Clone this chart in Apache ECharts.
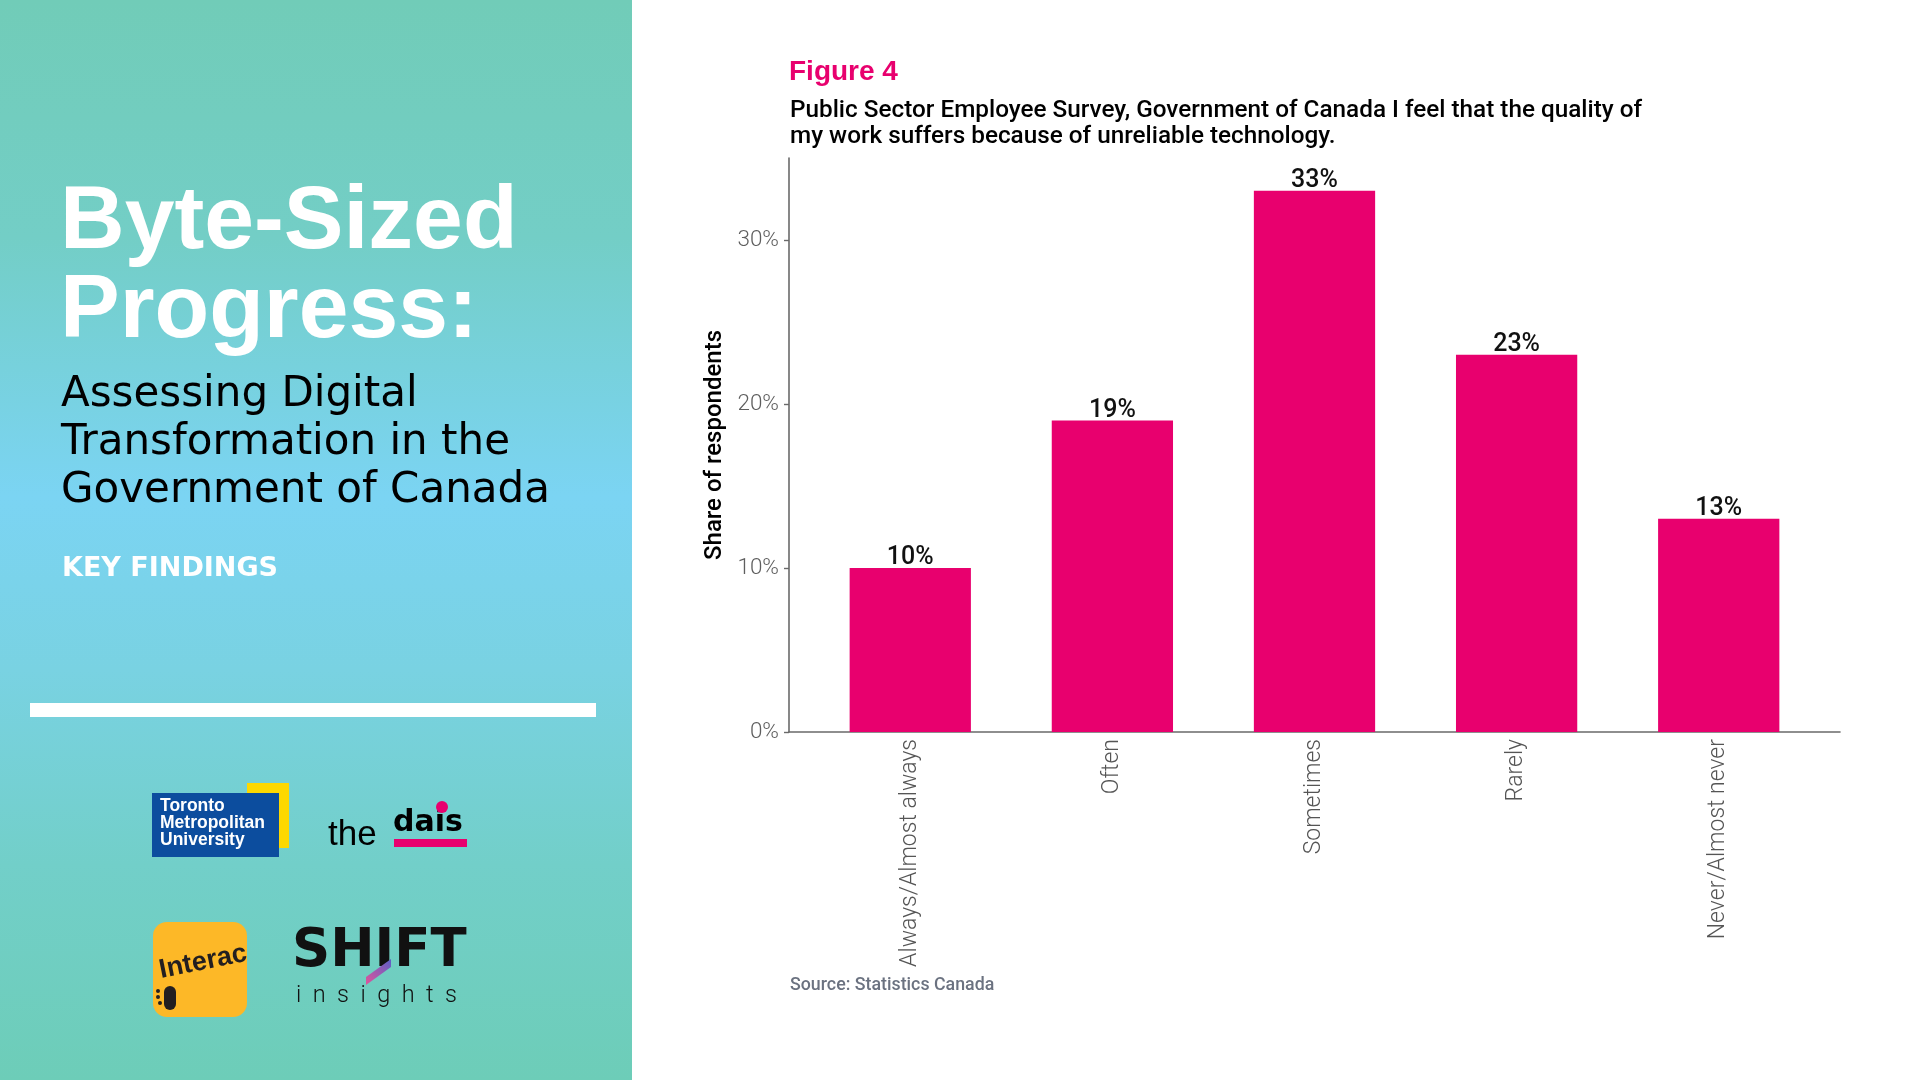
<!DOCTYPE html>
<html>
<head>
<meta charset="utf-8">
<script src="https://cdn.jsdelivr.net/npm/echarts@6/dist/echarts.min.js"></script>
<style>
html,body{margin:0;padding:0;background:#fff;}
#chart{width:1920px;height:1080px;}
</style>
</head>
<body>
<div id="chart"></div>
<script>
// ---- data ----
const categories = ['Always/Almost always', 'Often', 'Sometimes', 'Rarely', 'Never/Almost never'];
const shares = [10, 19, 33, 23, 13];
const yTickValues = [0, 10, 20, 30];
const figureLabel = 'Figure 4';
const subtitleText = 'Public Sector Employee Survey, Government of Canada I feel that the quality of\nmy work suffers because of unreliable technology.';
const yAxisTitle = 'Share of respondents';
const sourceText = 'Source: Statistics Canada';

const PINK = '#E8006E';
const categoryPositions = categories.map((_, i) => i);

const chart = echarts.init(document.getElementById('chart'), null, {renderer: 'canvas'});

const option = {
  backgroundColor: '#ffffff',
  animation: false,
  grid: {left: 789, right: 80, top: 158, bottom: 348, containLabel: false},
  xAxis: {
    type: 'value',
    min: -0.6,
    max: 4.6,
    axisLine: {show: true, onZero: false, lineStyle: {color: '#6a6a6a', width: 1.6}},
    axisTick: {show: false},
    splitLine: {show: false},
    axisLabel: {
      customValues: categoryPositions,
      formatter: v => categories[Math.round(v)],
      rotate: 90,
      margin: 7,
      color: '#555555',
      fontFamily: 'Roboto',
      fontWeight: 300,
      fontSize: 23
    }
  },
  yAxis: {
    type: 'value',
    min: 0,
    max: 35,
    interval: 10,
    axisLine: {show: true, onZero: false, lineStyle: {color: '#6a6a6a', width: 1.6}},
    axisTick: {show: true, length: 5, customValues: yTickValues, lineStyle: {color: '#6a6a6a', width: 1.4}},
    splitLine: {show: false},
    axisLabel: {
      customValues: yTickValues,
      formatter: '{value}%',
      margin: 10,
      padding: [4, 0, 0, 0],
      color: '#5e5e5e',
      fontFamily: 'Roboto',
      fontWeight: 300,
      fontSize: 22.5
    },
    name: yAxisTitle,
    nameLocation: 'middle',
    nameGap: 62,
    nameTextStyle: {color: '#000', fontFamily: 'Roboto', fontWeight: 500, fontSize: 24}
  },
  series: [{
    type: 'bar',
    data: shares.map((v, i) => [categoryPositions[i], v]),
    barWidth: '60%',
    itemStyle: {color: PINK},
    label: {
      show: true,
      position: 'top',
      distance: -2.5,
      formatter: p => p.value[1] + '%',
      color: '#111',
      fontFamily: 'Roboto',
      fontWeight: 500,
      fontSize: 25
    }
  }],
  graphic: [
    // left panel background
    {type: 'rect', silent: true, z: -10,
      shape: {x: 0, y: 0, width: 632, height: 1080},
      style: {fill: new echarts.graphic.LinearGradient(0, 0, 0, 1, [
        {offset: 0, color: '#71CCB8'},
        {offset: 0.22, color: '#73CEC6'},
        {offset: 0.46, color: '#7BD4F3'},
        {offset: 0.62, color: '#79D2E2'},
        {offset: 0.8, color: '#72CFC9'},
        {offset: 1, color: '#6DCDB8'}
      ])}
    },
    {type: 'text', x: 60, y: 179, style: {
      text: 'Byte-Sized\nProgress:', fill: '#ffffff', font: 'bold 89.5px "Liberation Sans"',
      lineHeight: 89, verticalAlign: 'top', align: 'left'}},
    {type: 'text', x: 61, y: 371, style: {
      text: 'Assessing Digital\nTransformation in the\nGovernment of Canada', fill: '#000000',
      font: '42px "DejaVu Sans"', lineHeight: 48, verticalAlign: 'top', align: 'left'}},
    {type: 'text', x: 62, y: 569, style: {
      text: 'KEY FINDINGS', fill: '#ffffff', font: 'bold 27px "DejaVu Sans"',
      verticalAlign: 'middle', align: 'left'}},
    {type: 'rect', shape: {x: 30, y: 703, width: 566, height: 14}, style: {fill: '#ffffff'}},
    // TMU logo
    {type: 'rect', shape: {x: 247, y: 783, width: 42, height: 65}, style: {fill: '#FDD800'}},
    {type: 'rect', shape: {x: 152, y: 793, width: 127, height: 64}, style: {fill: '#0C4D9E'}},
    {type: 'text', x: 160, y: 798, style: {
      text: 'Toronto\nMetropolitan\nUniversity', fill: '#ffffff', font: 'bold 17.5px "Liberation Sans"',
      lineHeight: 17, verticalAlign: 'top', align: 'left'}},
    // the dais logo
    {type: 'text', x: 328, y: 835, style: {
      text: 'the', fill: '#000', font: '35px "Liberation Sans"', verticalAlign: 'middle', align: 'left'}},
    {type: 'text', x: 393, y: 823, style: {
      text: 'dais', fill: '#000', font: 'bold 30px "DejaVu Sans"', verticalAlign: 'middle', align: 'left'}},
    {type: 'rect', shape: {x: 394, y: 839, width: 73, height: 8}, style: {fill: PINK}},
    {type: 'circle', shape: {cx: 442, cy: 807, r: 6}, style: {fill: PINK}},
    // Interac logo
    {type: 'rect', shape: {x: 153, y: 922, width: 94, height: 95, r: 14}, style: {fill: '#FDB827'}},
    {type: 'text', x: 203, y: 962, rotation: 0.2, style: {
      text: 'Interac', fill: '#231F20', font: 'bold 27px "Liberation Sans"', verticalAlign: 'middle', align: 'center'}},
    {type: 'rect', shape: {x: 164, y: 986, width: 12, height: 24, r: 6}, style: {fill: '#231F20'}},
    {type: 'circle', shape: {cx: 158, cy: 991, r: 2}, style: {fill: '#231F20'}},
    {type: 'circle', shape: {cx: 158, cy: 997, r: 2}, style: {fill: '#231F20'}},
    {type: 'circle', shape: {cx: 160, cy: 1003, r: 2}, style: {fill: '#231F20'}},
    // SHIFT insights logo
    {type: 'text', x: 292, y: 952, style: {
      text: 'SHIFT', fill: '#111', font: 'bold 53px "DejaVu Sans"', verticalAlign: 'middle', align: 'left'}},
    {type: 'polygon', shape: {points: [[366, 977], [391, 959], [391, 967], [366, 985]]},
      style: {fill: new echarts.graphic.LinearGradient(0, 1, 1, 0, [
        {offset: 0, color: '#E0559B'}, {offset: 1, color: '#5B5FC7'}])}},
    {type: 'text', x: 296, y: 996, style: {
      text: 'i  n  s  i  g  h  t  s', fill: '#111', font: '300 23.5px Roboto', verticalAlign: 'middle', align: 'left'}},
    // chart titles
    {type: 'text', x: 789, y: 72, style: {
      text: figureLabel, fill: PINK, font: 'bold 28px "Liberation Sans"', verticalAlign: 'middle', align: 'left'}},
    {type: 'text', x: 790, y: 97.5, style: {
      text: subtitleText, fill: '#000', font: '500 24.3px Roboto', lineHeight: 26, verticalAlign: 'top', align: 'left'}},
    {type: 'text', x: 790, y: 986, style: {
      text: sourceText, fill: '#6B7280', font: '500 17.8px Roboto', verticalAlign: 'middle', align: 'left'}}
  ]
};

chart.setOption(option);
</script>
</body>
</html>
